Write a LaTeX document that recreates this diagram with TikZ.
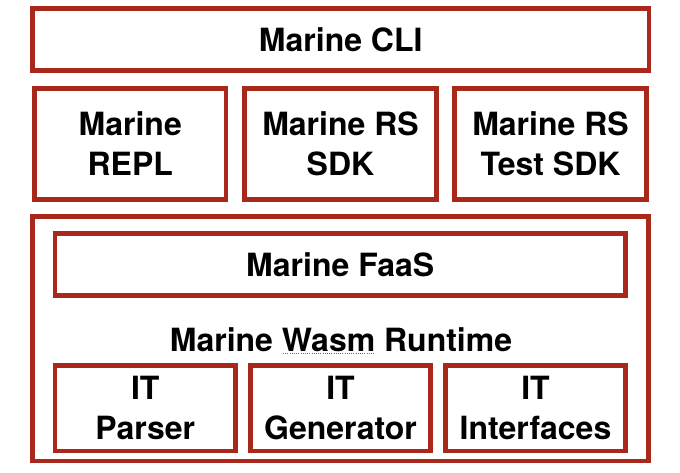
\documentclass[tikz,border=0pt]{standalone}
\usepackage{fontspec}
\setmainfont{TeX Gyre Heros}
\definecolor{marinered}{RGB}{168,41,28}
\tikzset{
  box/.style={draw=marinered, line width=4.6pt, rectangle, inner sep=2pt,
    align=center, text depth=0pt,
    font=\fontsize{32}{40}\selectfont\bfseries},
  lbl/.style={inner sep=0pt, font=\fontsize{32}{40}\selectfont\bfseries},
  spell/.style={draw=red!85!white, line width=0.9pt, dash pattern=on 1pt off 1.2pt}
}
\begin{document}
\begin{tikzpicture}[x=1pt,y=1pt]
\useasboundingbox (0,0) rectangle (680,-472);
% top row
\node[box, minimum width=616.5pt, minimum height=62pt] (cli) at (340.75,-39.5) {Marine CLI};
% second row
\node[box, minimum width=191.5pt, minimum height=111pt] (repl) at (130.25,-144) {Marine\\REPL};
\node[box, minimum width=192pt, minimum height=111pt] (sdk) at (340.5,-144) {Marine RS\\SDK};
\node[box, minimum width=192pt, minimum height=111pt] (tsdk) at (550.5,-144) {Marine RS\\Test SDK};
% runtime container
\node[box, minimum width=616pt, minimum height=244.5pt] (runtime) at (340.5,-338.75) {};
\node[box, minimum width=570.5pt, minimum height=62pt] (faas) at (340.25,-264.5) {Marine FaaS};
\node[lbl, anchor=base] (rtlabel) at (341,-351.7) {Marine Wasm Runtime};
\coordinate (ula) at (283,-353.5);
\coordinate (ulb) at (375,-353.5);
\draw[spell] (ula) -- (ulb);
% IT row
\node[box, minimum width=180.5pt, minimum height=85.5pt] (parser) at (145.25,-408.25) {IT\\Parser};
\node[box, minimum width=180pt, minimum height=85.5pt] (gen) at (340.5,-408.25) {IT\\Generator};
\node[box, minimum width=180pt, minimum height=85.5pt] (ifaces) at (535.5,-408.25) {IT\\Interfaces};
\end{tikzpicture}
\end{document}
